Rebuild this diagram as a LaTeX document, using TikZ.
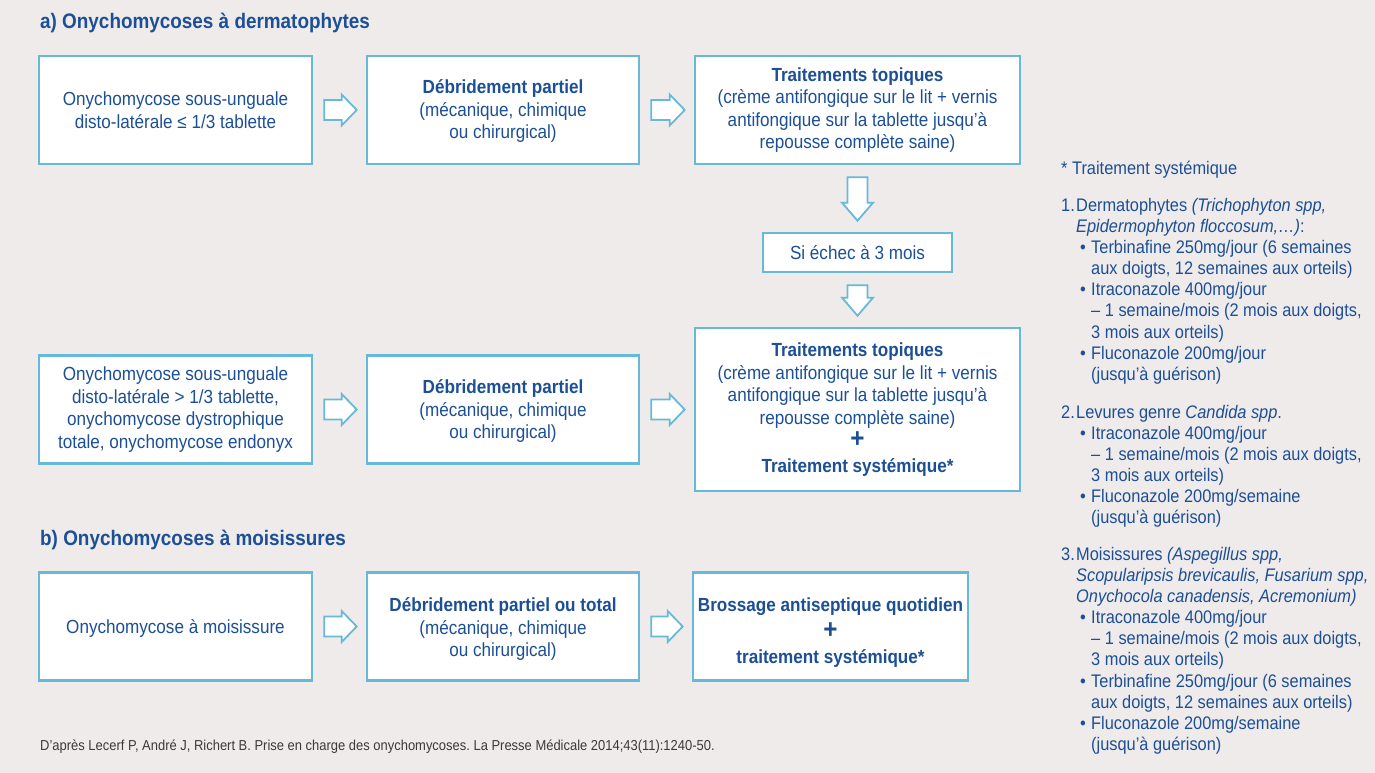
\documentclass[tikz,border=0pt]{standalone}
\usepackage{fontspec}
\setmainfont{Liberation Sans}[FakeStretch=0.9]
\usetikzlibrary{calc}
\frenchspacing
\definecolor{tblue}{HTML}{1C4F96}
\definecolor{lblue}{HTML}{66B9D9}
\definecolor{bgc}{HTML}{EFEBEA}
\definecolor{fgray}{HTML}{3A3A3A}
\newcommand\plusmark{{\fontsize{27}{22.5}\selectfont\bfseries +}}
\tikzset{
  box/.style={draw=lblue, line width=2.6pt, fill=white, align=center, text=tblue,
    font=\fontsize{19}{22.5}\selectfont, inner sep=0pt},
  boxtxt/.style={align=center, text=tblue, font=\fontsize{19}{22.5}\selectfont, inner sep=0pt},
  rarrow/.style={draw=lblue, line width=1.8pt, fill=white, line join=miter,
    to path={let \p1=(\tikztostart.east), \p2=(\tikztotarget.west) in
      (\x1+11,\y1+10) -- (\x2-24,\y1+10) -- (\x2-24,\y1+15.5) -- (\x2-9,\y1)
      -- (\x2-24,\y1-15.5) -- (\x2-24,\y1-10) -- (\x1+11,\y1-10) -- cycle}},
  darrow/.style={draw=lblue, line width=1.8pt, fill=white, line join=miter,
    to path={let \p1=(\tikztostart.south), \p2=(\tikztotarget.north) in
      (\x1-10,\y1-12) -- (\x1-10,\y2+29) -- (\x1-15.5,\y2+29) -- (\x1,\y2+11)
      -- (\x1+15.5,\y2+29) -- (\x1+10,\y2+29) -- (\x1+10,\y1-12) -- cycle}},
  ttl/.style={anchor=base west, inner sep=0pt, text=tblue, font=\fontsize{21}{24}\selectfont\bfseries},
  rtxt/.style={anchor=base west, inner sep=0pt, text=tblue, font=\fontsize{18.2}{21.05}\selectfont},
  foot/.style={anchor=base west, inner sep=0pt, text=fgray, font=\fontsize{14.4}{16}\selectfont\frenchspacing}
}
\begin{document}
\begin{tikzpicture}[x=1pt,y=-1pt]
\fill[bgc] (0,0) rectangle (1375,773);
\useasboundingbox (0,0) rectangle (1375,773);

% titles
\node[ttl] (ta) at (40,29) {a) Onychomycoses à dermatophytes};
\node[ttl] (tb) at (40,545) {b) Onychomycoses à moisissures};

% row 1
\node[box, minimum width=273, minimum height=108] (b1) at (175.5,110)
  {Onychomycose sous-unguale\\disto-latérale ≤ 1/3 tablette};
\node[box, minimum width=272, minimum height=108] (b2) at (503,110) {};
\node[boxtxt] (b2t) at ($(b2.center)+(0,1.5)$)
  {\textbf{Débridement partiel}\\(mécanique, chimique\\ou chirurgical)};
\node[box, minimum width=325, minimum height=108] (b3) at (857.5,110)
  {\textbf{Traitements topiques}\\(crème antifongique sur le lit + vernis\\antifongique sur la tablette jusqu’à\\repousse complète saine)};
\node[box, minimum width=189, minimum height=39] (si) at (857.5,252.5)
  {Si échec à 3 mois};
\node[box, minimum width=325, minimum height=163] (b4) at (857.5,409.5)
  {\textbf{Traitements topiques}\\(crème antifongique sur le lit + vernis\\antifongique sur la tablette jusqu’à\\repousse complète saine)\\[1pt]\plusmark\\[2pt]\textbf{Traitement systémique*}};

% row 2
\node[box, minimum width=273, minimum height=108] (c1) at (175.5,409.5)
  {Onychomycose sous-unguale\\disto-latérale > 1/3 tablette,\\onychomycose dystrophique\\totale, onychomycose endonyx};
\node[box, minimum width=272, minimum height=108] (c2) at (503,409.5) {};
\node[boxtxt] (c2t) at ($(c2.center)+(0,1.5)$)
  {\textbf{Débridement partiel}\\(mécanique, chimique\\ou chirurgical)};

% row 3
\node[box, minimum width=273, minimum height=108] (d1) at (175.5,626.5) {};
\node[boxtxt] (d1t) at ($(d1.center)+(0,2)$) {Onychomycose à moisissure};
\node[box, minimum width=272, minimum height=108] (d2) at (503,626.5) {};
\node[boxtxt] (d2t) at ($(d2.center)+(0,2.5)$)
  {\textbf{Débridement partiel ou total}\\(mécanique, chimique\\ou chirurgical)};
\node[box, minimum width=275, minimum height=108] (d3) at (830.5,626.5) {};
\node[boxtxt] (d3t) at ($(d3.center)+(0,6)$)
  {\textbf{Brossage antiseptique quotidien}\\[5pt]\plusmark\\[2pt]\textbf{traitement systémique*}};

% arrows
\draw[rarrow] (b1) to (b2);
\draw[rarrow] (b2) to (b3);
\draw[darrow] (b3) to (si);
\draw[darrow] (si) to (b4);
\draw[rarrow] (c1) to (c2);
\draw[rarrow] (c2) to (b4);
\draw[rarrow] (d1) to (d2);
\draw[rarrow] (d2) to (d3);

% right panel
\node[rtxt] (h0) at (1061,174) {* Traitement systémique};
\node[rtxt] (p1a) at (1061,211.7) {\makebox[15pt][l]{1.}Dermatophytes \textit{(Trichophyton spp,}};
\node[rtxt] (p1b) at (1076,232.75) {\textit{Epidermophyton floccosum,…)}:};
\node[rtxt] (p1c) at (1080,253.8) {\makebox[11pt][l]{•}Terbinafine 250mg/jour (6 semaines};
\node[rtxt] (p1d) at (1091,274.85) {aux doigts, 12 semaines aux orteils)};
\node[rtxt] (p1e) at (1080,295.9) {\makebox[11pt][l]{•}Itraconazole 400mg/jour};
\node[rtxt] (p1f) at (1091,316.95) {– 1 semaine/mois (2 mois aux doigts,};
\node[rtxt] (p1g) at (1091,338.0) {3 mois aux orteils)};
\node[rtxt] (p1h) at (1080,359.05) {\makebox[11pt][l]{•}Fluconazole 200mg/jour};
\node[rtxt] (p1i) at (1091,380.1) {(jusqu’à guérison)};

\node[rtxt] (p2a) at (1061,418) {\makebox[15pt][l]{2.}Levures genre \textit{Candida spp}.};
\node[rtxt] (p2b) at (1080,439.05) {\makebox[11pt][l]{•}Itraconazole 400mg/jour};
\node[rtxt] (p2c) at (1091,460.1) {– 1 semaine/mois (2 mois aux doigts,};
\node[rtxt] (p2d) at (1091,481.15) {3 mois aux orteils)};
\node[rtxt] (p2e) at (1080,502.2) {\makebox[11pt][l]{•}Fluconazole 200mg/semaine};
\node[rtxt] (p2f) at (1091,523.25) {(jusqu’à guérison)};

\node[rtxt] (p3a) at (1061,560.7) {\makebox[15pt][l]{3.}Moisissures \textit{(Aspegillus spp,}};
\node[rtxt] (p3b) at (1076,581.75) {\textit{Scopularipsis brevicaulis, Fusarium spp,}};
\node[rtxt] (p3c) at (1076,602.8) {\textit{Onychocola canadensis, Acremonium)}};
\node[rtxt] (p3d) at (1080,623.85) {\makebox[11pt][l]{•}Itraconazole 400mg/jour};
\node[rtxt] (p3e) at (1091,644.9) {– 1 semaine/mois (2 mois aux doigts,};
\node[rtxt] (p3f) at (1091,665.95) {3 mois aux orteils)};
\node[rtxt] (p3g) at (1080,687.0) {\makebox[11pt][l]{•}Terbinafine 250mg/jour (6 semaines};
\node[rtxt] (p3h) at (1091,708.05) {aux doigts, 12 semaines aux orteils)};
\node[rtxt] (p3i) at (1080,729.1) {\makebox[11pt][l]{•}Fluconazole 200mg/semaine};
\node[rtxt] (p3j) at (1091,750.15) {(jusqu’à guérison)};

% footnote
\node[foot] (src) at (40,750.5) {D’après Lecerf P, André J, Richert B. Prise en charge des onychomycoses. La Presse Médicale 2014;43(11):1240-50.};
\end{tikzpicture}
\end{document}
